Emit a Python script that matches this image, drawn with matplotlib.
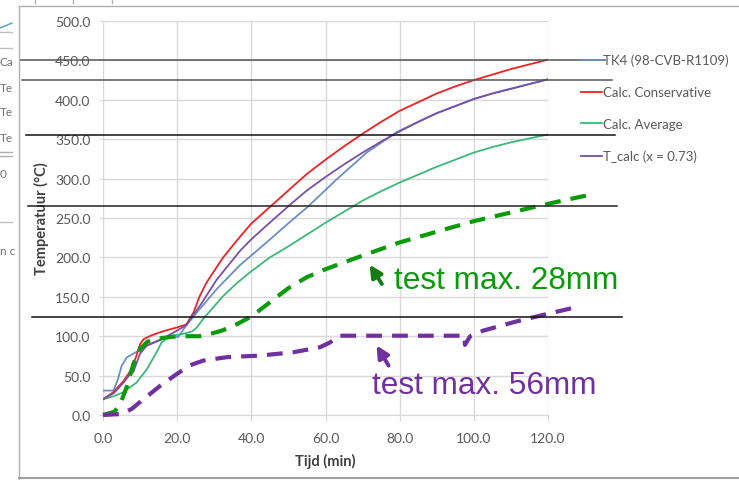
import matplotlib
matplotlib.use("Agg")
import matplotlib.pyplot as plt
from matplotlib.lines import Line2D

# --- data (time in min, temperature in degC) ---
tk4_t = [0, 2.8, 4, 5, 6.4, 7.5, 9, 11.8, 15.4, 17.2, 20.3, 22.5, 25.3, 30.7, 36.9,
         44.1, 50.4, 55.4, 63, 71.1, 79.2, 85, 90, 95, 100, 105, 110, 115, 120]
tk4_T = [31, 31, 45, 62, 73, 76, 80, 88, 96, 99, 99, 114, 130, 160, 190,
         219, 245, 265, 299, 333, 359, 372, 383, 392, 401, 408, 414, 420, 426]

cons_t = [0, 2.8, 5.5, 7.7, 9, 10, 10.9, 13, 15.4, 17.5, 19.9, 22.5, 24.4, 26, 27.9, 30,
          32.4, 36.9, 40, 45, 50, 55, 60, 65, 70, 75, 80, 85, 90, 95, 100, 105, 110,
          115, 120]
cons_T = [20, 29, 43, 58, 75, 90, 96, 101, 105, 108, 111, 115, 130, 150, 168, 183,
          200, 226, 243, 264, 285, 306, 324, 341, 357, 372, 386, 397, 408, 417, 425,
          432, 439, 445, 451]

avg_t = [0, 3, 5.5, 9, 11.8, 14.5, 15.8, 18, 21.6, 24, 25.3, 27, 30, 32.4, 36, 39.6,
         45, 50, 55, 60, 65, 70, 75, 80, 85, 90, 95, 100, 105, 110, 115, 120]
avg_T = [20, 24, 29, 41, 58, 80, 92, 100, 103, 106, 111, 122, 138, 151, 167, 181,
         200, 214, 229, 244, 258, 272, 284, 295, 305, 315, 324, 333, 340, 346, 351, 356]

tcalc_t = [0, 3, 5.5, 7, 8.2, 10, 11.8, 15.4, 19.9, 22.5, 24, 26.2, 30.7, 36.9, 40, 44,
           50, 55, 60, 65, 70, 75, 80, 85, 90, 95, 100, 105, 110, 115, 120]
tcalc_T = [20, 28, 41, 50, 55, 78, 88, 95, 107, 114, 125, 139, 172, 208, 223, 240,
           265, 285, 302, 318, 333, 347, 360, 372, 383, 392, 401, 408, 414, 420, 426]

test28_t = [0, 3, 4.5, 6.5, 8.2, 10, 12, 15, 18, 21, 26, 29, 32, 36, 40, 45, 50, 55,
            60, 64, 71, 80, 91, 100, 110, 120, 131.8]
test28_T = [0, 4, 12, 37, 65, 84, 93, 97, 99, 100, 100, 103, 107, 115, 125, 143, 161, 175,
            185, 192, 204, 219, 234, 246, 257, 268, 280]

test56_t = [0, 5, 7.7, 10.9, 15.4, 19.9, 23.4, 27, 33.4, 42.3, 51.3, 58.5, 61.2, 63.5,
            97.5, 97.6, 99, 102.5, 110.6, 117.8, 128.6]
test56_T = [0, 1.3, 7.6, 20, 37, 52, 63, 69, 73.4, 75.4, 79.6, 86, 92, 100.6,
            100.6, 89, 100, 107, 117.6, 126, 138]

# horizontal marker lines drawn over the screenshot
mark_T = [450, 425, 355, 265, 124]
mark_x0 = [-22.4, -21.8, -20.8, -20.2, -19.1]
mark_x1 = [135.4, 137.3, 138.1, 138.6, 140.0]
mark_col = ["#555555", "#555555", "#111111", "#222222", "#111111"]

x_ticks = [0, 20, 40, 60, 80, 100, 120]
y_ticks = [0, 50, 100, 150, 200, 250, 300, 350, 400, 450, 500]

TXT = "#595959"
GRID = "#d9d9d9"

fig = plt.figure(figsize=(7.39, 4.81), dpi=100)
ax = fig.add_axes([103 / 739, 1 - 416 / 481, 445 / 739, 394 / 481])

ax.plot(tk4_t, tk4_T, color="#6b8fc4", lw=1.3, label="TK4 (98-CVB-R1109)", zorder=3)
ax.plot(cons_t, cons_T, color="#ee2222", lw=1.3, label="Calc. Conservative", zorder=4)
ax.plot(avg_t, avg_T, color="#3cb878", lw=1.3, label="Calc. Average", zorder=3)
ax.plot(tcalc_t, tcalc_T, color="#7a4fa6", lw=1.3, label="T_calc (x = 0.73)", zorder=5)

ax.plot(test28_t, test28_T, color="#0a9a0a", lw=3, dashes=(3.8, 2.4),
        clip_on=False, zorder=6)
ax.plot(test56_t, test56_T, color="#7030a0", lw=3, dashes=(3.8, 2.4),
        clip_on=False, zorder=6)

for T, a, b, c in zip(mark_T, mark_x0, mark_x1, mark_col):
    ax.plot([a, b], [T, T], color=c, lw=1.1, clip_on=False, zorder=7)

ax.set_xlim(0, 120)
ax.set_ylim(0, 500)
ax.set_xticks(x_ticks)
ax.set_yticks(y_ticks)
ax.set_xticklabels([f"{v:.1f}" for v in x_ticks])
ax.set_yticklabels([f"{v:.1f}" for v in y_ticks])
ax.grid(True, color=GRID, lw=1)
ax.set_axisbelow(True)
for s in ax.spines.values():
    s.set_visible(False)
ax.spines["bottom"].set_visible(True)
ax.spines["bottom"].set_color(GRID)
ax.tick_params(axis="x", length=4, color=GRID, pad=8, labelsize=10, labelcolor=TXT)
ax.tick_params(axis="y", length=3, color=GRID, pad=6, labelsize=10, labelcolor=TXT)
for lab in ax.get_xticklabels() + ax.get_yticklabels():
    lab.set_family("Lato")

ax.set_xlabel("Tijd (min)", fontsize=10.5, fontweight="bold", color="#404040",
              family="Lato", labelpad=7)
ax.set_ylabel("Temperatuur (°C)", fontsize=10.5, fontweight="bold", color="#404040",
              family="Lato", labelpad=4)

leg = fig.legend(loc="upper left", bbox_to_anchor=(569 / 739, 1 - 43 / 481),
                 frameon=False, handlelength=1.6, handletextpad=0.1,
                 labelspacing=1.5, prop={"family": "Lato", "size": 9.5})
for t in leg.get_texts():
    t.set_color(TXT)

# hand-drawn annotations
ax.annotate("", xy=(71.5, 193.8), xytext=(75.6, 163.3),
            arrowprops=dict(arrowstyle="-|>", color="#137d13", lw=2.8,
                            mutation_scale=18), annotation_clip=False, zorder=8)
ax.annotate("", xy=(73.4, 91.4), xytext=(77.4, 59.6),
            arrowprops=dict(arrowstyle="-|>", color="#7030a0", lw=2.8,
                            mutation_scale=18), annotation_clip=False, zorder=8)
ax.text(78.5, 171, "test max. 28mm", color="#0a9a0a", fontsize=22.7,
        family="Liberation Sans", va="center", ha="left", clip_on=False)
ax.text(72.5, 38, "test max. 56mm", color="#7030a0", fontsize=22.7,
        family="Liberation Sans", va="center", ha="left", clip_on=False)

# screenshot frame and neighbouring chart fragment
def px_line(x0, y0, x1, y1, c, lw=1.0):
    fig.add_artist(Line2D([x0 / 739, x1 / 739], [1 - y0 / 481, 1 - y1 / 481],
                          color=c, lw=lw))

px_line(19, 7, 739, 7, "#b0b0b0")
px_line(19, 7, 19, 481, "#b0b0b0")
px_line(19, 479, 739, 479, "#a0a0a0", 1.5)
for xm in [35, 73, 112]:
    px_line(xm, 0, xm, 4, "#b0b0b0")
px_line(0, 29, 12, 24, "#4aa3c0")
px_line(0, 33, 12, 33, "#c0c0c0")
px_line(0, 49, 12, 49, "#c0c0c0")
px_line(0, 153, 12, 153, "#b0b0b0")
px_line(0, 157, 12, 157, "#b0b0b0")
px_line(0, 223, 12, 223, "#c0c0c0")
for yy, s in zip([62, 88, 113, 138, 175, 252], ["Ca", "Te", "Te", "Te", "0", "n c"]):
    fig.text(0, 1 - yy / 481, s, fontsize=8.5, color="#707070", family="Lato",
             va="center", ha="left")

fig.savefig("out.png", dpi=100)
